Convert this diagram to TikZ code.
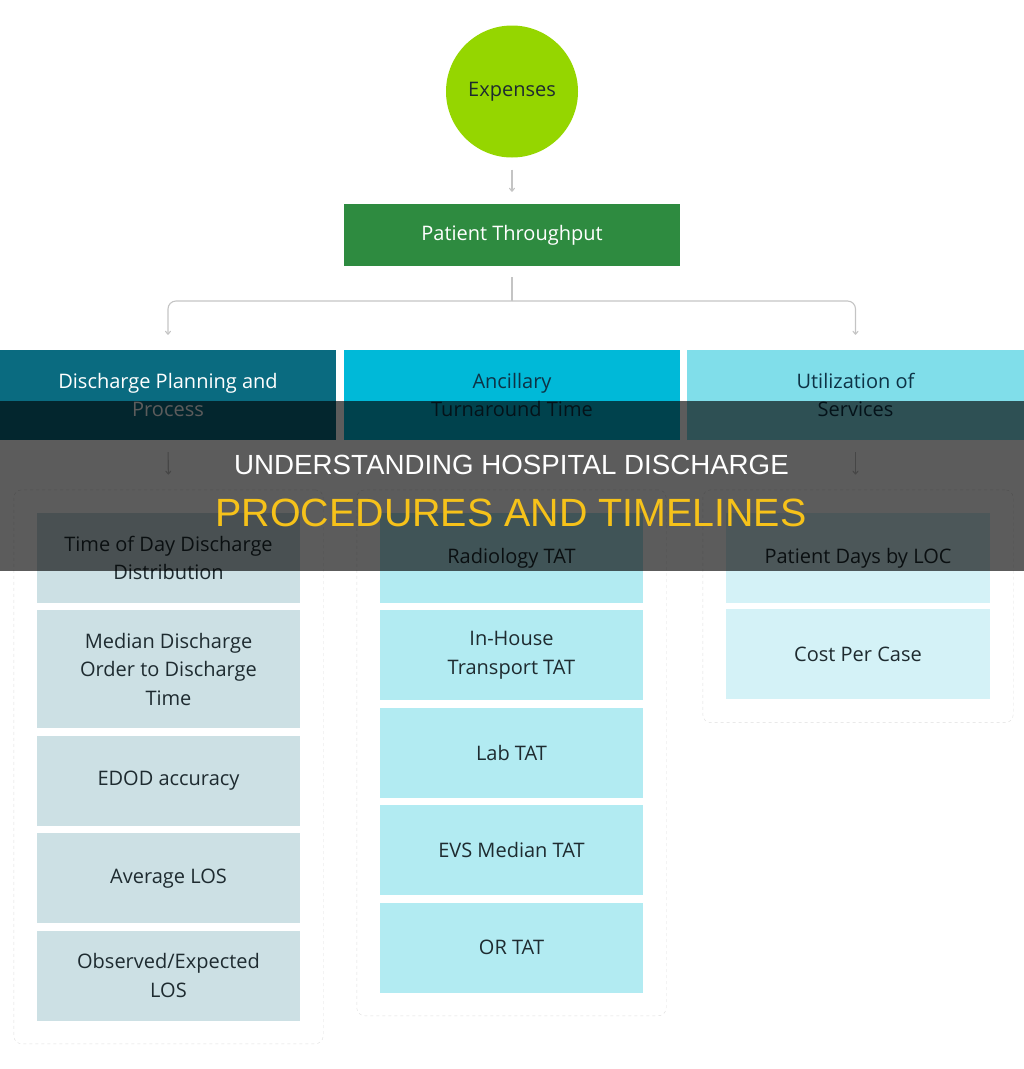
\documentclass[tikz,border=0pt]{standalone}
\usepackage{fontspec}
\setmainfont{Open Sans}
\newfontfamily\bannerfont{Liberation Sans}
\usepackage{xcolor}
\usetikzlibrary{positioning,arrows.meta,fit,backgrounds}
\definecolor{lime}{HTML}{95D600}
\definecolor{forest}{HTML}{2E8B40}
\definecolor{tealdark}{HTML}{0A6B80}
\definecolor{cyanmid}{HTML}{00B9D8}
\definecolor{cyanlight}{HTML}{80DEEA}
\definecolor{tealpale}{HTML}{CCE0E4}
\definecolor{cyanpale}{HTML}{B2EBF2}
\definecolor{cyanfaint}{HTML}{D4F2F7}
\definecolor{textdark}{HTML}{1E2B30}
\definecolor{navytext}{HTML}{0D3346}
\definecolor{linegray}{HTML}{C4C4C4}
\definecolor{framegray}{HTML}{DDDDDD}
\definecolor{gold}{HTML}{F6C21A}

\begin{document}
\begin{tikzpicture}[x=1pt, y=-1pt,
  conn/.style={draw=linegray, line width=1.1pt},
  arr/.style={conn, -{To[length=4pt,width=6pt]}},
  headbox/.style={
    rectangle, minimum width=336pt, minimum height=90pt,
    inner sep=0pt, align=center,
    font=\fontsize{20}{28.5}\selectfont,
  },
  itembox/.style={
    rectangle, minimum width=263pt, minimum height=90pt,
    inner sep=0pt, align=center, text=textdark,
    font=\fontsize{20}{28.5}\selectfont,
  },
  colframe/.style={draw=framegray, dashed, rounded corners=8pt, inner sep=23pt},
]
\useasboundingbox (0,0) rectangle (1024,1069);

% Top - Expenses and throughput
\node[circle, fill=lime, minimum size=132pt, inner sep=0pt, text=textdark,
  font=\fontsize{20}{24}\selectfont] (exp) at (512,91.5) {Expenses};
\node[rectangle, fill=forest, minimum width=336pt, minimum height=62pt,
  text=white, font=\fontsize{20}{24}\selectfont] (thru) at (512,235) {Patient Throughput};

% Level 2 - three areas
\node[headbox, fill=tealdark, text=white] (dis) at (168,395) {Discharge Planning and\\Process};
\node[headbox, fill=cyanmid, text=navytext] (anc) at (512,395) {Ancillary\\Turnaround Time};
\node[headbox, fill=cyanlight, text=navytext, minimum width=337pt] (uti) at (855.5,395) {Utilization of\\Services};

% Column 1 - discharge items
\node[itembox, fill=tealpale] (d1) at (168.5,558) {Time of Day Discharge\\Distribution};
\node[itembox, fill=tealpale, minimum height=118pt, below=7pt of d1] (d2) {Median Discharge\\Order to Discharge\\Time};
\node[itembox, fill=tealpale, below=7pt of d2] (d3) {EDOD accuracy};
\node[itembox, fill=tealpale, below=7pt of d3] (d4) {Average LOS};
\node[itembox, fill=tealpale, below=7pt of d4] (d5) {Observed/Expected\\LOS};

% Column 2 - ancillary items
\node[itembox, fill=cyanpale] (a1) at (511.5,558) {Radiology TAT};
\node[itembox, fill=cyanpale, below=7pt of a1] (a2) {In-House\\Transport TAT};
\node[itembox, fill=cyanpale, below=7pt of a2] (a3) {Lab TAT};
\node[itembox, fill=cyanpale, below=7pt of a3] (a4) {EVS Median TAT};
\node[itembox, fill=cyanpale, below=7pt of a4] (a5) {OR TAT};

% Column 3 - utilization items
\node[itembox, fill=cyanfaint, minimum width=264pt] (u1) at (858,558) {Patient Days by LOC};
\node[itembox, fill=cyanfaint, minimum width=264pt, below=6pt of u1] (u2) {Cost Per Case};

% Dashed frames
\begin{scope}[on background layer]
\node[colframe, fit=(d1)(d5)] (c1) {};
\node[colframe, fit=(a1)(a5)] (c2) {};
\node[colframe, fit=(u1)(u2)] (c3) {};
\end{scope}

% Connectors
\draw[arr, shorten <=12pt, shorten >=12pt] (exp.south) -- (thru.north);
\coordinate (split) at (512,301);
\draw[conn, shorten <=11pt] (thru.south) -- (split);
\draw[arr, rounded corners=8pt] (split) -| ([yshift=15pt]dis.north);
\draw[arr, rounded corners=8pt] (split) -| ([yshift=15pt]uti.north);
\draw[arr, shorten <=12pt, shorten >=15pt] (dis.south) -- (c1.north);
\draw[arr, shorten <=12pt, shorten >=15pt] (uti.south) -- (c3.north -| uti.south);

% Title banner
\fill[black, opacity=0.64] (0,401) rectangle (1024,571);
\node[font=\bannerfont\fontsize{27.7}{30}\selectfont, text=white, inner sep=0pt] (title1) at (511.5,464.5) {UNDERSTANDING HOSPITAL DISCHARGE};
\node[font=\bannerfont\fontsize{39.4}{42}\selectfont, text=gold, inner sep=0pt] (title2) at (511,512.5) {PROCEDURES AND TIMELINES};

\end{tikzpicture}
\end{document}
